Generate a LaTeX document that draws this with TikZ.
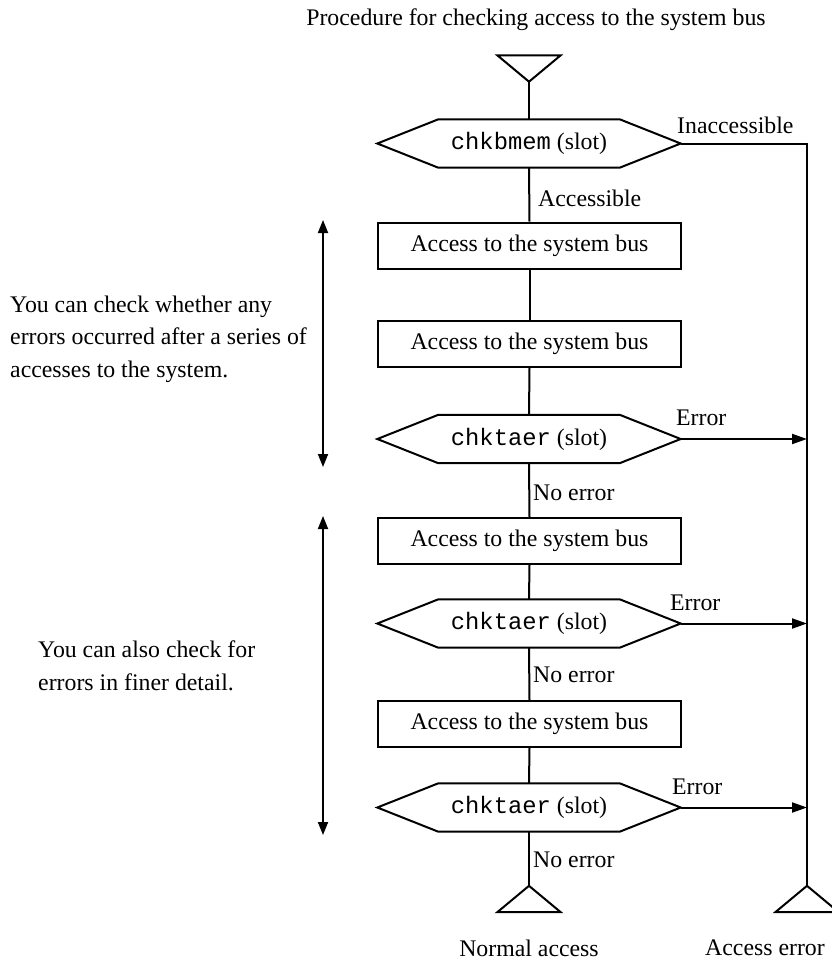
\documentclass[tikz,border=0pt]{standalone}
\usepackage{fontspec}
\setmainfont{Liberation Serif}
\setmonofont{Liberation Mono}
\usetikzlibrary{arrows.meta}

\begin{document}
\begin{tikzpicture}[x=1pt,y=-1pt,
  every node/.style={font=\fontsize{23.8}{32.5}\selectfont, inner sep=0pt},
  line/.style={line width=2pt, line join=miter},
  decide/.style={minimum width=303pt, minimum height=48pt},
  task/.style={draw, line width=2pt, minimum width=303pt, minimum height=46pt},
  terminal/.style={minimum width=63pt, minimum height=26pt},
  lbl/.style={anchor=west},
  arr/.style={line, -{Triangle[length=15pt,width=10pt]}},
  span/.style={line width=1.8pt, {Triangle[length=13pt,width=10pt]}-{Triangle[length=13pt,width=10pt]}},
  note/.style={anchor=west, align=left}
]
\useasboundingbox (0,0) rectangle (832,962);

% title
\node (title) at (536,20) {Procedure for checking access to the system bus};

% main column
\node[terminal] (start) at (529,68.5) {};
\node[decide] (q0) at (529,143.5) {\texttt{chkbmem} (slot)};
\node[task]   (b1) at (529.5,245.5) {Access to the system bus};
\node[task]   (b2) at (529.5,344) {Access to the system bus};
\node[decide] (q1) at (529,439) {\texttt{chktaer} (slot)};
\node[task]   (b3) at (529.5,541) {Access to the system bus};
\node[decide] (q2) at (529,623.5) {\texttt{chktaer} (slot)};
\node[task]   (b4) at (529.5,724) {Access to the system bus};
\node[decide] (q3) at (529,807.5) {\texttt{chktaer} (slot)};
\node[terminal] (endok)  at (529,899) {};
\node[terminal] (enderr) at (807,899) {};

% end labels
\node (okname)  at (529,948) {Normal access};
\node (errname) at (765,948) {Access error};

% terminal triangles
\draw[line] (start.north west) -- (start.north east) -- (start.south) -- cycle;
\foreach \t in {endok,enderr}
  \draw[line] (\t.north) -- (\t.south east) -- (\t.south west) -- cycle;

% decision hexagons
\foreach \h in {q0,q1,q2,q3}
  \draw[line] (\h.west) -- ([xshift=61pt]\h.north west) -- ([xshift=-61pt]\h.north east)
    -- (\h.east) -- ([xshift=-61pt]\h.south east) -- ([xshift=61pt]\h.south west) -- cycle;

% main flow
\draw[line] (start.south) -- (q0.north);
\draw[line] (q0.south) -- (b1.north);
\draw[line] (b1.south) -- (b2.north);
\draw[line] (b2.south) -- (q1.north);
\draw[line] (q1.south) -- (b3.north);
\draw[line] (b3.south) -- (q2.north);
\draw[line] (q2.south) -- (b4.north);
\draw[line] (b4.south) -- (q3.north);
\draw[line] (q3.south) -- (endok.north);

% error path
\draw[line] (q0.east) -| (enderr.north);
\draw[arr] (q1.east) -- (q1.east -| enderr.north);
\draw[arr] (q2.east) -- (q2.east -| enderr.north);
\draw[arr] (q3.east) -- (q3.east -| enderr.north);

% branch labels
\node[lbl] (lacc)   at (538,198) {Accessible};
\node[lbl] (linacc) at (677,125) {Inaccessible};
\node[lbl] (lerr1)  at (676,418) {Error};
\node[lbl] (lerr2)  at (670,603) {Error};
\node[lbl] (lerr3)  at (672,787) {Error};
\node[lbl] (lok1)   at (533,493) {No error};
\node[lbl] (lok2)   at (533,675) {No error};
\node[lbl] (lok3)   at (533,860) {No error};

% side notes with their spans
\coordinate (s1top) at (323,220);
\coordinate (s1bot) at (323,467);
\coordinate (s2top) at (323,516);
\coordinate (s2bot) at (323,835);
\draw[span] (s1top) -- (s1bot);
\draw[span] (s2top) -- (s2bot);

\node[note] (note1) at (10,339) {You can check whether any\\errors occurred after a series of\\accesses to the system.};
\node[note] (note2) at (38,666) {You can also check for\\errors in finer detail.};
\end{tikzpicture}
\end{document}
